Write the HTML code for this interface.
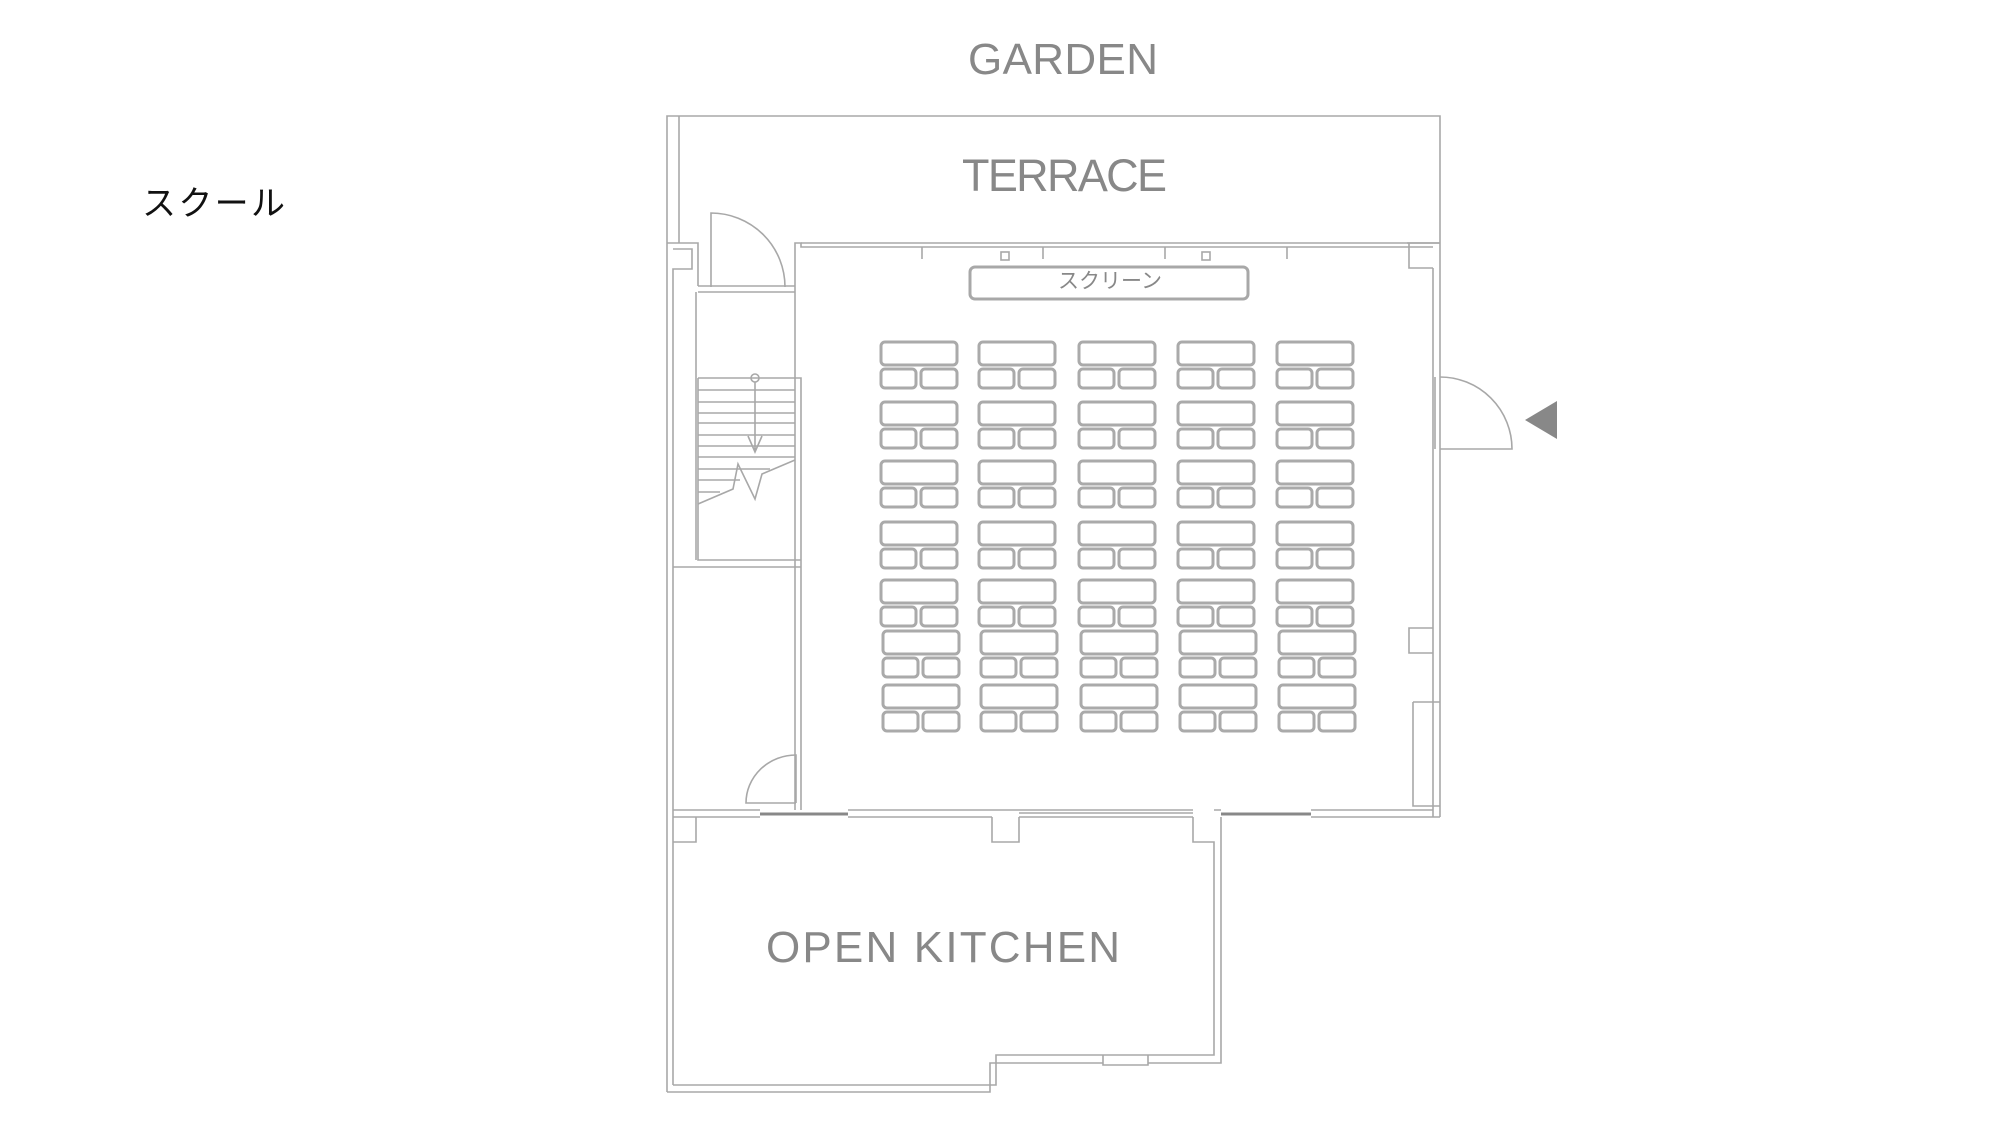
<!DOCTYPE html>
<html><head><meta charset="utf-8"><style>
html,body{margin:0;padding:0;background:#fff;}
svg{display:block;}
</style></head><body>
<svg width="2000" height="1125" viewBox="0 0 2000 1125" xmlns="http://www.w3.org/2000/svg">
<rect width="2000" height="1125" fill="#fff"/>
<g font-family="Liberation Sans, sans-serif" fill="#888">
<text x="968" y="74" font-size="44" textLength="190" lengthAdjust="spacing">GARDEN</text>
<text x="962" y="191" font-size="45" textLength="205" lengthAdjust="spacing">TERRACE</text>
<text x="766" y="962" font-size="44" textLength="354" lengthAdjust="spacing">OPEN KITCHEN</text>
</g>
<text x="142" y="215" font-family="Liberation Sans, 'Noto Sans CJK JP', sans-serif" font-size="34" fill="#111" textLength="143" lengthAdjust="spacing">スクール</text>

<g fill="none" stroke="#a8a8a8" stroke-width="1.6">
<path d="M667 1092 V116 H1440 V817"/>
<path d="M679 116 V243"/>
<path d="M667 243 H698 V286 M673 1085 V269 H692 V249 H673"/>
<path d="M795 292 V243 H801 V247 H1433"/>
<path d="M801 243 H1440"/>
<path d="M698 286 H795 M698 292 H795"/>
<path d="M696 292 V560"/>
<path d="M698 378 H801 V810 M698 378 V560 H801 M673 567 H801"/>
<path d="M795 292 V810"/>
<path d="M698 390H795M698 402H795M698 413H795M698 423H795M698 435H795M698 446H795M698 457H795M698 469H770M698 480H740M698 492H720"/>
<path d="M698 504 L733 489 L738 464 L755 499 L762 474 L795 460"/>
<path d="M755 382 V452 M748 436 L755 452 L762 436"/>
<circle cx="755" cy="378" r="4"/>
<path d="M1433 268 V817 M1407 243 H1440 M1409 243 V268 H1433"/>
<path d="M1433 628 H1409 V653 H1433"/>
<path d="M1413 702 H1440 M1413 702 V806 H1440"/>
<path d="M1435 377 V449"/>
<path d="M673 810 H760 M848 810 H1019 M1019 810 H1193 M1214 810 H1221 M1311 810 H1433"/>
<path d="M673 817 H760 M848 817 H992 M1019 817 H1193 M1311 817 H1440"/>
<path d="M1019 813 H1193"/>
<path d="M696 817 V842 H673"/>
<path d="M992 817 V842 H1019 V817"/>
<path d="M1193 817 V842 H1214 V1055 H996 V1085 H673"/>
<path d="M1221 817 V1063 H1148 M1103 1063 H1002 H990 V1092 H667"/>
<path d="M1103 1055 V1065 H1148 V1055"/>
<path d="M711 287 V213 A74 74 0 0 1 785 287"/>
<path d="M1440 449 H1512 A72 72 0 0 0 1440 377"/>
<path d="M796 803 V755 A50 48 0 0 0 746 803 H796"/>
<path d="M922 247V259M1043 247V259M1165 247V259M1287 247V259"/>
<rect x="1001" y="252" width="8" height="8"/>
<rect x="1202" y="252" width="8" height="8"/>
</g>
<g stroke="#888" stroke-width="3">
<path d="M760 814 H848 M1221 814 H1311"/>
</g>
<polygon points="1525,420 1557,401 1557,439" fill="#888"/>

<rect x="970" y="267" width="278" height="32" rx="5" fill="none" stroke="#a8a8a8" stroke-width="3"/>
<text x="1110" y="288" text-anchor="middle" font-family="Liberation Sans, 'Noto Sans CJK JP', sans-serif" font-size="21" fill="#888">スクリーン</text>

<g id="desks" fill="none" stroke="#aaa" stroke-width="3">
</g>
<script>
(function(){
var g=document.getElementById('desks');
var cols=[881,979,1079,1178,1277];
var rows=[[342,369,0],[402,429,0],[461,488,0],[522,549,0],[580,607,0],[631,658,2],[685,712,2]];
var ns='http://www.w3.org/2000/svg';
function r(x,y,w,h){var e=document.createElementNS(ns,'rect');e.setAttribute('x',x);e.setAttribute('y',y);e.setAttribute('width',w);e.setAttribute('height',h);e.setAttribute('rx',4);g.appendChild(e);}
rows.forEach(function(rw){cols.forEach(function(c){var x=c+rw[2];r(x,rw[0],76,23);r(x,rw[1],35,19);r(x+40,rw[1],36,19);});});
})();
</script>
</svg>
</body></html>
